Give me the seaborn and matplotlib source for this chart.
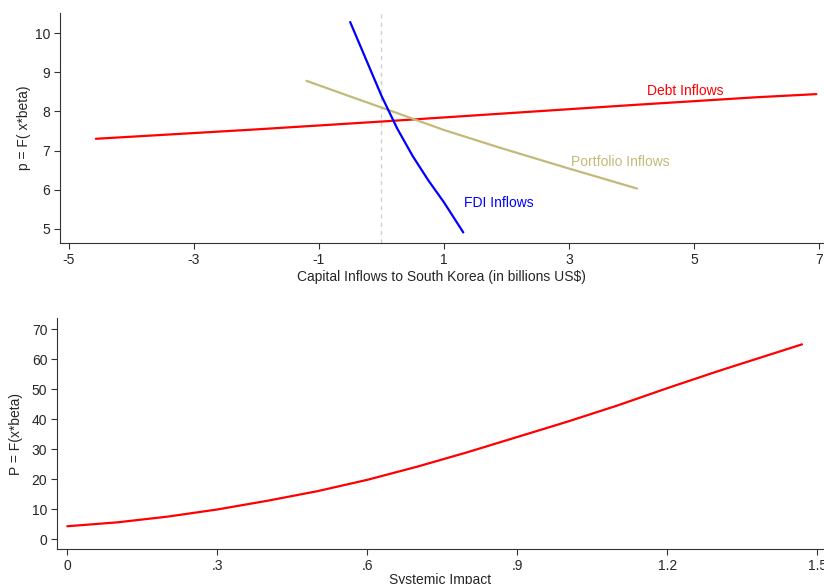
import numpy as np
import pandas as pd
import matplotlib
matplotlib.use("Agg")
import matplotlib.pyplot as plt
import seaborn as sns

# Top panel: predicted probability vs capital inflows
debt_x = [-4.57, -2.0, 0.0, 2.0, 4.0, 6.0, 6.96]
debt_y = [7.30, 7.54, 7.74, 7.95, 8.16, 8.36, 8.44]

fdi_x = [-0.50, -0.25, 0.0, 0.25, 0.5, 0.75, 1.0, 1.31]
fdi_y = [10.28, 9.34, 8.40, 7.57, 6.86, 6.24, 5.68, 4.91]

port_x = [-1.20, -0.5, 0.14, 0.99, 1.90, 2.96, 4.09]
port_y = [8.78, 8.38, 8.02, 7.53, 7.07, 6.56, 6.03]

top_xticks = [-5, -3, -1, 1, 3, 5, 7]
top_yticks = [5, 6, 7, 8, 9, 10]

# Bottom panel: predicted probability vs systemic impact
sys_x = [0.0, 0.1, 0.2, 0.3, 0.4, 0.5, 0.6, 0.7, 0.8, 0.9, 1.0, 1.1, 1.2, 1.3, 1.469]
sys_y = [4.3, 5.6, 7.5, 9.9, 12.8, 16.0, 19.8, 24.2, 29.0, 34.1, 39.2, 44.6, 50.4, 56.0, 65.0]

bot_xticks = [0, 0.3, 0.6, 0.9, 1.2, 1.5]
bot_xlabels = ["0", ".3", ".6", ".9", "1.2", "1.5"]
bot_yticks = [0, 10, 20, 30, 40, 50, 60, 70]

red = "#ff0000"
blue = "#0000ff"
khaki = "#c3b978"

sns.set_style("ticks")
plt.rcParams["font.family"] = ["Liberation Sans", "DejaVu Sans"]
plt.rcParams["font.size"] = 10
plt.rcParams["axes.unicode_minus"] = False

fig = plt.figure(figsize=(8.24, 5.84), dpi=100)
ax1 = fig.add_axes([0.0728, 0.5839, 0.927, 0.3938])
ax2 = fig.add_axes([0.0692, 0.0599, 0.9308, 0.3956])

# top panel
ax1.axvline(0, color="#d0d0d0", linestyle=(0, (3, 3)), linewidth=1)
sns.lineplot(x=debt_x, y=debt_y, ax=ax1, color=red, linewidth=1.6, sort=False)
sns.lineplot(x=port_x, y=port_y, ax=ax1, color=khaki, linewidth=1.6, sort=False)
sns.lineplot(x=fdi_x, y=fdi_y, ax=ax1, color=blue, linewidth=1.6, sort=False)
ax1.text(4.86, 8.53, "Debt Inflows", color=red, fontsize=10, ha="center", va="center")
ax1.text(3.83, 6.70, "Portfolio Inflows", color=khaki, fontsize=10, ha="center", va="center")
ax1.text(1.88, 5.67, "FDI Inflows", color=blue, fontsize=10, ha="center", va="center")
ax1.set_xlim(-5.144, 7.08)
ax1.set_ylim(4.64, 10.51)
ax1.set_xticks(top_xticks)
ax1.set_yticks(top_yticks)
ax1.set_xlabel("Capital Inflows to South Korea (in billions US$)", fontsize=10, labelpad=2)
ax1.set_ylabel("p = F( x*beta)", fontsize=10, labelpad=3)

# bottom panel
sns.lineplot(x=sys_x, y=sys_y, ax=ax2, color=red, linewidth=1.6, sort=False)
ax2.set_xlim(-0.0206, 1.513)
ax2.set_ylim(-3.3, 73.8)
ax2.set_xticks(bot_xticks)
ax2.set_xticklabels(bot_xlabels)
ax2.set_yticks(bot_yticks)
ax2.set_xlabel("Systemic Impact", fontsize=10, labelpad=0)
ax2.set_ylabel("P = F(x*beta)", fontsize=10, labelpad=6)

for ax in (ax1, ax2):
    sns.despine(ax=ax)
    ax.spines["left"].set_color("#333333")
    ax.spines["bottom"].set_color("#333333")
    ax.tick_params(axis="both", length=4, width=0.8, color="#333333", labelsize=10, pad=3)

fig.savefig("out.png", dpi=100)
